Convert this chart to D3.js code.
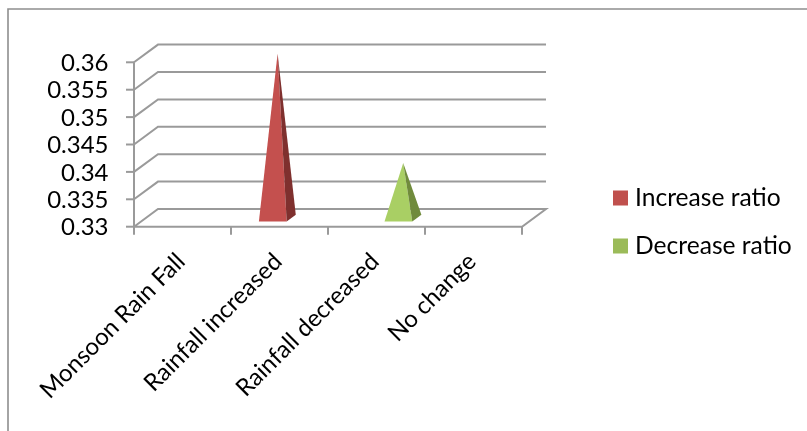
<!DOCTYPE html>
<html><head><meta charset="utf-8">
<script src="https://cdn.jsdelivr.net/npm/d3@7"></script>
<style>
html,body{margin:0;padding:0;background:#fff}
svg{display:block;filter:blur(0.35px)}
text{font-family:Lato,"Open Sans",sans-serif;fill:#000}
</style></head><body>
<svg id="c" width="807" height="431"></svg>
<script>
const categories = ["Monsoon Rain Fall","Rainfall increased","Rainfall decreased","No change"];
const seriesNames = ["Increase ratio","Decrease ratio"];
const increaseRatio = [null,0.36,null,null];
const decreaseRatio = [null,null,0.34,null];
const yTicks = [0.33,0.335,0.34,0.345,0.35,0.355,0.36];
const yTickLabels = ["0.33","0.335","0.34","0.345","0.35","0.355","0.36"];
const frontColors = ["#c4504e","#a9cf64"];
const sideColors = ["#7f302e","#708b3c"];
const legendColors = ["#c0504d","#9bbb59"];
const lineColor = "#9a9a9a";

const svg = d3.select("#c");
const x = d3.scaleBand().domain(categories).range([134,522]);
const y = d3.scaleLinear().domain([0.33,0.36]).range([226.7,62.3]);
const depth = {dx:24, dy:-17.7};
const off = t => [depth.dx*t, depth.dy*t];
const barOffset = d3.scaleBand().domain(seriesNames).range([0.4,x.bandwidth()+0.4]).paddingInner(0.03).paddingOuter(0.71);

// outer border
svg.append("path").attr("d","M8,431V9H807").attr("fill","none").attr("stroke","#8e8e8e").attr("stroke-width",1.6);

// gridlines and axes
const grid = svg.append("g").attr("fill","none").attr("stroke",lineColor).attr("stroke-width",2);
yTicks.forEach(t=>{
  const Y=y(t);
  const p = d3.path();
  p.moveTo(x.range()[0],Y);
  p.lineTo(x.range()[0]+depth.dx,Y+depth.dy);
  p.lineTo(x.range()[1]+depth.dx,Y+depth.dy);
  if(t===0.33){p.lineTo(x.range()[1],Y);p.lineTo(x.range()[0],Y);}
  grid.append("path").attr("d",p.toString());
});
grid.append("line").attr("x1",134).attr("x2",134).attr("y1",y(0.36)).attr("y2",y(0.33));
yTicks.forEach(t=>grid.append("line").attr("x1",126).attr("x2",134).attr("y1",y(t)).attr("y2",y(t)));
const xTicks = categories.map(c=>x(c)).concat([x.range()[1]]);
xTicks.forEach(v=>grid.append("line").attr("x1",v).attr("x2",v).attr("y1",y(0.33)).attr("y2",y(0.33)+8));

// y labels
yTicks.forEach((t,i)=>{
  svg.append("text").attr("x",108.5).attr("y",y(t)).attr("dy","0.36em").attr("text-anchor","end")
    .attr("font-size",24).text(yTickLabels[i]);
});

// x labels
categories.forEach(c=>{
  const cx=x(c)+x.bandwidth()/2;
  svg.append("text").attr("transform",`translate(${cx+4},${263}) rotate(-45)`).attr("text-anchor","end")
    .attr("font-size",24).text(c);
});

// pyramids
function pyramid(values,si){
  values.forEach((v,i)=>{
    if(v===null) return;
    const left=x(categories[i])+barOffset(seriesNames[si])+off(0.3)[0];
    const right=left+barOffset.bandwidth();
    const frontY=y(0.33)+off(0.3)[1];
    const back=off(0.38);
    const apexX=(left+right)/2+off(0.2)[0];
    const apexY=y(v)+off(0.5)[1];
    const g=svg.append("g");
    g.append("path").attr("d",d3.line()([[left,frontY],[right,frontY],[apexX,apexY]])+"Z").attr("fill",frontColors[si]);
    g.append("path").attr("d",d3.line()([[right,frontY],[right+back[0],frontY+back[1]],[apexX,apexY]])+"Z").attr("fill",sideColors[si]);
  });
}
pyramid(increaseRatio,0);
pyramid(decreaseRatio,1);

// legend
seriesNames.forEach((n,i)=>{
  const ly=198+i*48;
  svg.append("rect").attr("x",613).attr("y",ly-7.5).attr("width",15).attr("height",15).attr("fill",legendColors[i]);
  svg.append("text").attr("x",635).attr("y",ly-0.5).attr("dy","0.36em").attr("font-size",24.6).text(n);
});
</script>
</body></html>
